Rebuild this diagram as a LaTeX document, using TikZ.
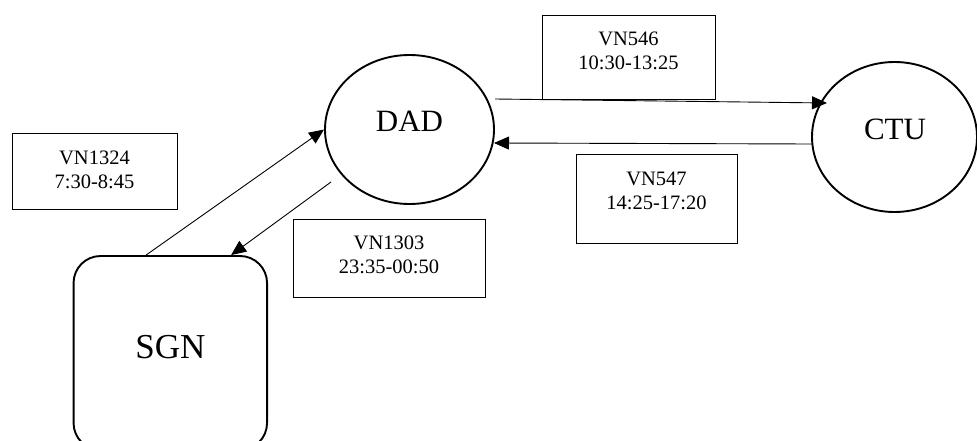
\documentclass[tikz,border=0pt]{standalone}
\usepackage{fontspec}
\setmainfont{Liberation Serif}
\usetikzlibrary{calc,shapes.geometric,arrows.meta}

\tikzset{
  city/.style={ellipse, draw, line width=1.9pt, minimum width=169pt, minimum height=149pt, inner sep=0pt},
  citytext/.style={font=\fontsize{31}{36}\selectfont, inner sep=0pt},
  hub/.style={draw, line width=1.9pt, rounded corners=27pt, minimum width=193.5pt, minimum height=194pt, inner sep=0pt},
  hubtext/.style={font=\fontsize{35}{40}\selectfont, inner sep=0pt},
  flightbox/.style={draw, line width=0.8pt, inner sep=0pt},
  flighttext/.style={font=\fontsize{20.5}{24}\selectfont, align=center, inner sep=0pt},
  flow/.style={line width=0.9pt, -{Triangle[length=15pt,width=13pt]}}
}

\begin{document}
\begin{tikzpicture}[x=1pt,y=-1pt]
  \useasboundingbox (0,0) rectangle (977,441);

  % airports
  \node[city, minimum width=169pt, minimum height=149pt] (dad) at (409.5,129.5) {};
  \node[citytext] (dadlbl) at (409.5,121) {DAD};
  \node[city, minimum width=165pt, minimum height=150pt] (ctu) at (894.5,137) {};
  \node[citytext] (ctulbl) at (895,129) {CTU};
  \node[hub] (sgn) at (170.3,353) {};
  \node[hubtext] (sgnlbl) at (170.3,347) {SGN};

  % flight boxes
  \node[flightbox, minimum width=173pt, minimum height=84pt] (f546) at (628.5,57) {};
  \node[flighttext] (t546) at (628.5,51) {VN546\\10:30-13:25};
  \node[flightbox, minimum width=161pt, minimum height=89pt] (f547) at (656.5,198.5) {};
  \node[flighttext] (t547) at (656.5,190.5) {VN547\\14:25-17:20};
  \node[flightbox, minimum width=165pt, minimum height=76pt] (f1324) at (94.5,171) {};
  \node[flighttext] (t1324) at (94.5,169.5) {VN1324\\7:30-8:45};
  \node[flightbox, minimum width=192pt, minimum height=78pt] (f1303) at (389,258) {};
  \node[flighttext] (t1303) at (389,255) {VN1303\\23:35-00:50};

  % connector end points
  \coordinate (sgnout) at ($(sgn.north west)+(73.5,0)$);
  \coordinate (sgnin)  at ($(sgn.north west)+(158.5,0)$);
  \coordinate (dadout) at ($(dad.center)+(-78.5,52.5)$);
  \coordinate (dadeast) at ($(dad.center)+(85.5,-30.5)$);
  \coordinate (ctuin)  at ($(ctu.center)+(-67.5,-34)$);
  \coordinate (ctuout) at ($(ctu.center)+(-83,7)$);
  \coordinate (dadin)  at ($(dad.center)+(84.5,13.5)$);

  % flights
  \draw[flow] (sgnout) -- (dad.west);
  \draw[flow] (dadout) -- (sgnin);
  \draw[flow] (dadeast) -- (ctuin);
  \draw[flow] (ctuout) -- (dadin);
\end{tikzpicture}
\end{document}
